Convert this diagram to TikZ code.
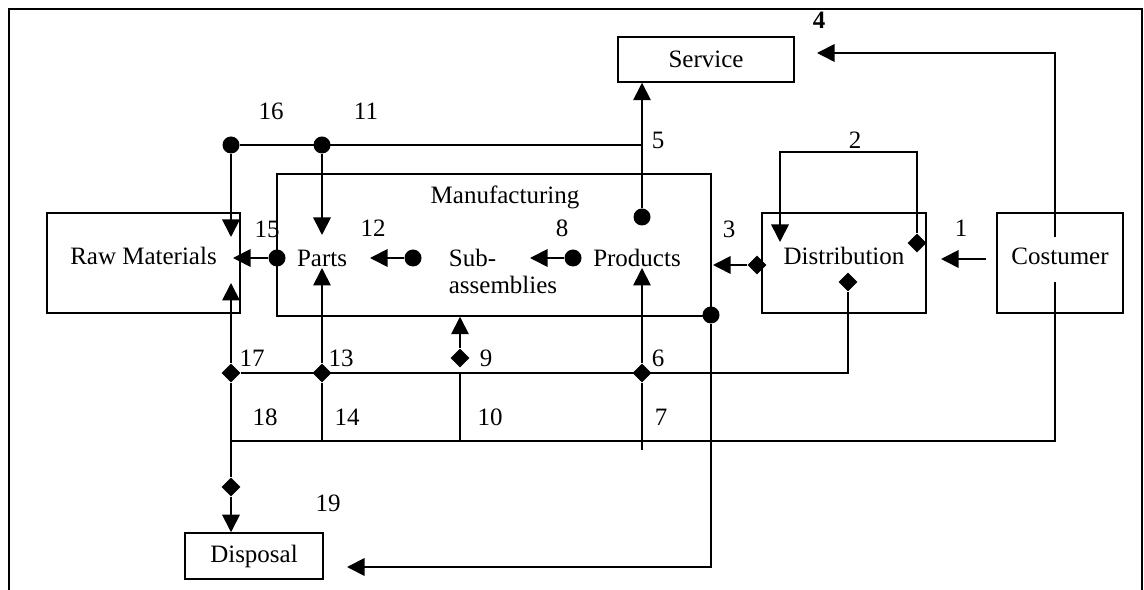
\documentclass[tikz,border=0pt]{standalone}
\usepackage{fontspec}
\setmainfont{Liberation Serif}
\usetikzlibrary{arrows.meta,shapes.geometric}

\begin{document}
\begin{tikzpicture}
    \def\dx{0.4pt}
    \def\dy{0.4pt}

    \tikzstyle{block}=[draw=black,line width=0.6pt,inner sep=0pt,align=center]
    \tikzstyle{unit}=[block,text height=7pt,text depth=6pt]
    \tikzstyle{txt}=[inner sep=1pt,align=left]
    \tikzstyle{tag}=[inner sep=0pt]
    \tikzstyle{src}=[circle,fill=black,inner sep=0pt,minimum size=17*\dx]
    \tikzstyle{sink}=[diamond,aspect=1,fill=black,inner sep=0pt,minimum size=19*\dx]

    \useasboundingbox (0,0) rectangle (1144*\dx,-590*\dy);
    \draw[line width=1.1pt] (9*\dx,-590*\dy) -- (9*\dx,-9*\dy) -- (1142*\dx,-9*\dy) -- (1142*\dx,-590*\dy);

    % boxes
    \node[unit,minimum width=193*\dx,minimum height=100*\dy] (raw) at (143.5*\dx,-263*\dy) {Raw Materials};
    \node[block,minimum width=434*\dx,minimum height=142*\dy] (mfg) at (494*\dx,-245*\dy) {};
    \node[block,minimum width=176*\dx,minimum height=45*\dy] (service) at (706*\dx,-59.5*\dy) {Service};
    \node[unit,minimum width=164*\dx,minimum height=100*\dy] (dist) at (844*\dx,-263*\dy) {Distribution};
    \node[unit,minimum width=126*\dx,minimum height=100*\dy] (cust) at (1060*\dx,-263*\dy) {Costumer};
    \node[block,minimum width=138*\dx,minimum height=46*\dy] (disp) at (254*\dx,-556*\dy) {Disposal};

    \node[txt] (mfgname) at (505*\dx,-197*\dy) {Manufacturing};
    \node[txt] (parts) at (322*\dx,-258*\dy) {Parts};
    \node[txt] (sub) at (503*\dx,-271*\dy) {Sub-\\[-1.2pt]assemblies};
    \node[txt] (prod) at (637*\dx,-258*\dy) {Products};

    % flow numbers
    \node[tag] (n1) at (961*\dx,-228*\dy) {1};
    \node[tag] (n2) at (855*\dx,-140*\dy) {2};
    \node[tag] (n3) at (729*\dx,-229*\dy) {3};
    \node[tag] (n4) at (819*\dx,-20*\dy) {\bfseries 4};
    \node[tag] (n5) at (658*\dx,-140*\dy) {5};
    \node[tag] (n6) at (658*\dx,-358*\dy) {6};
    \node[tag] (n7) at (661*\dx,-417*\dy) {7};
    \node[tag] (n8) at (562*\dx,-228*\dy) {8};
    \node[tag] (n9) at (486*\dx,-358*\dy) {9};
    \node[tag] (n10) at (490*\dx,-417*\dy) {10};
    \node[tag] (n11) at (366*\dx,-111*\dy) {11};
    \node[tag] (n12) at (373*\dx,-228*\dy) {12};
    \node[tag] (n13) at (341*\dx,-358*\dy) {13};
    \node[tag] (n14) at (347*\dx,-417*\dy) {14};
    \node[tag] (n15) at (267*\dx,-229*\dy) {15};
    \node[tag] (n16) at (271*\dx,-111*\dy) {16};
    \node[tag] (n17) at (252*\dx,-358*\dy) {17};
    \node[tag] (n18) at (265*\dx,-417*\dy) {18};
    \node[tag] (n19) at (328*\dx,-503*\dy) {19};

    % outputs and inputs
    \node[src] (c16) at (231*\dx,-145*\dy) {};
    \node[src] (c11) at (322*\dx,-145*\dy) {};
    \node[src] (c5) at (642*\dx,-217*\dy) {};
    \node[src] (c15) at (277*\dx,-258*\dy) {};
    \node[src] (c12) at (413*\dx,-258*\dy) {};
    \node[src] (c8) at (573*\dx,-258*\dy) {};
    \node[src] (c20) at (711*\dx,-315*\dy) {};
    \node[sink] (d2) at (917*\dx,-243*\dy) {};
    \node[sink] (d3) at (757*\dx,-265*\dy) {};
    \node[sink] (dd) at (848*\dx,-282*\dy) {};
    \node[sink] (d17) at (231*\dx,-373*\dy) {};
    \node[sink] (d13) at (322*\dx,-373*\dy) {};
    \node[sink] (d9) at (460*\dx,-358*\dy) {};
    \node[sink] (d6) at (642*\dx,-373*\dy) {};
    \node[sink] (d19) at (231*\dx,-487*\dy) {};

    \coordinate (s1) at (986*\dx,-259*\dy);
    \coordinate (t1) at (941*\dx,-259*\dy);
    \coordinate (k2) at (917*\dx,-152*\dy);
    \coordinate (t2) at (780*\dx,-242*\dy);
    \coordinate (t3) at (713*\dx,-265*\dy);
    \coordinate (s4) at (1055*\dx,-237*\dy);
    \coordinate (t4) at (817*\dx,-53*\dy);
    \coordinate (t16) at (231*\dx,-237*\dy);
    \coordinate (t11) at (322*\dx,-235*\dy);
    \coordinate (t15) at (233*\dx,-258*\dy);
    \coordinate (t12) at (370*\dx,-258*\dy);
    \coordinate (t8) at (530*\dx,-258*\dy);
    \coordinate (t17) at (231*\dx,-283*\dy);
    \coordinate (t13) at (322*\dx,-268*\dy);
    \coordinate (t6) at (642*\dx,-268*\dy);
    \coordinate (s18) at (1055*\dx,-282*\dy);
    \coordinate (bus) at (231*\dx,-441*\dy);
    \coordinate (e7) at (642*\dx,-450*\dy);
    \coordinate (t19) at (347*\dx,-567*\dy);

    \tikzstyle{fwd}=[draw=black,line width=0.7pt,-{Triangle[length=7pt,width=7pt]}]
    \tikzstyle{wire}=[draw=black,line width=0.7pt]

    \draw[fwd] (s1) -- (t1);
    \draw[fwd] (d2) -- (k2) -| (t2);
    \draw[fwd] (d3) -- (t3);
    \draw[fwd] (s4) |- (t4);
    \draw[fwd] (c5) -- (c5 |- service.south);
    \draw[wire] (c16) -- (c5 |- c16);
    \draw[fwd] (c16) -- (t16);
    \draw[fwd] (c11) -- (t11);
    \draw[fwd] (c15) -- (t15);
    \draw[fwd] (c12) -- (t12);
    \draw[fwd] (c8) -- (t8);
    \draw[fwd] (d17) -- (t17);
    \draw[fwd] (d13) -- (t13);
    \draw[fwd] (d6) -- (t6);
    \draw[fwd] (d9) -- (d9 |- mfg.south);
    \draw[wire] (d17) -- (dd |- d17) -- (dd);
    \draw[wire] (s18) |- (bus);
    \draw[wire] (d17) -- (d19);
    \draw[fwd] (d19) -- (d19 |- disp.north);
    \draw[wire] (d13) -- (d13 |- bus);
    \draw[wire] (d9 |- d17) -- (d9 |- bus);
    \draw[wire] (d6) -- (e7);
    \draw[fwd] (c20) |- (t19);
\end{tikzpicture}
\end{document}
